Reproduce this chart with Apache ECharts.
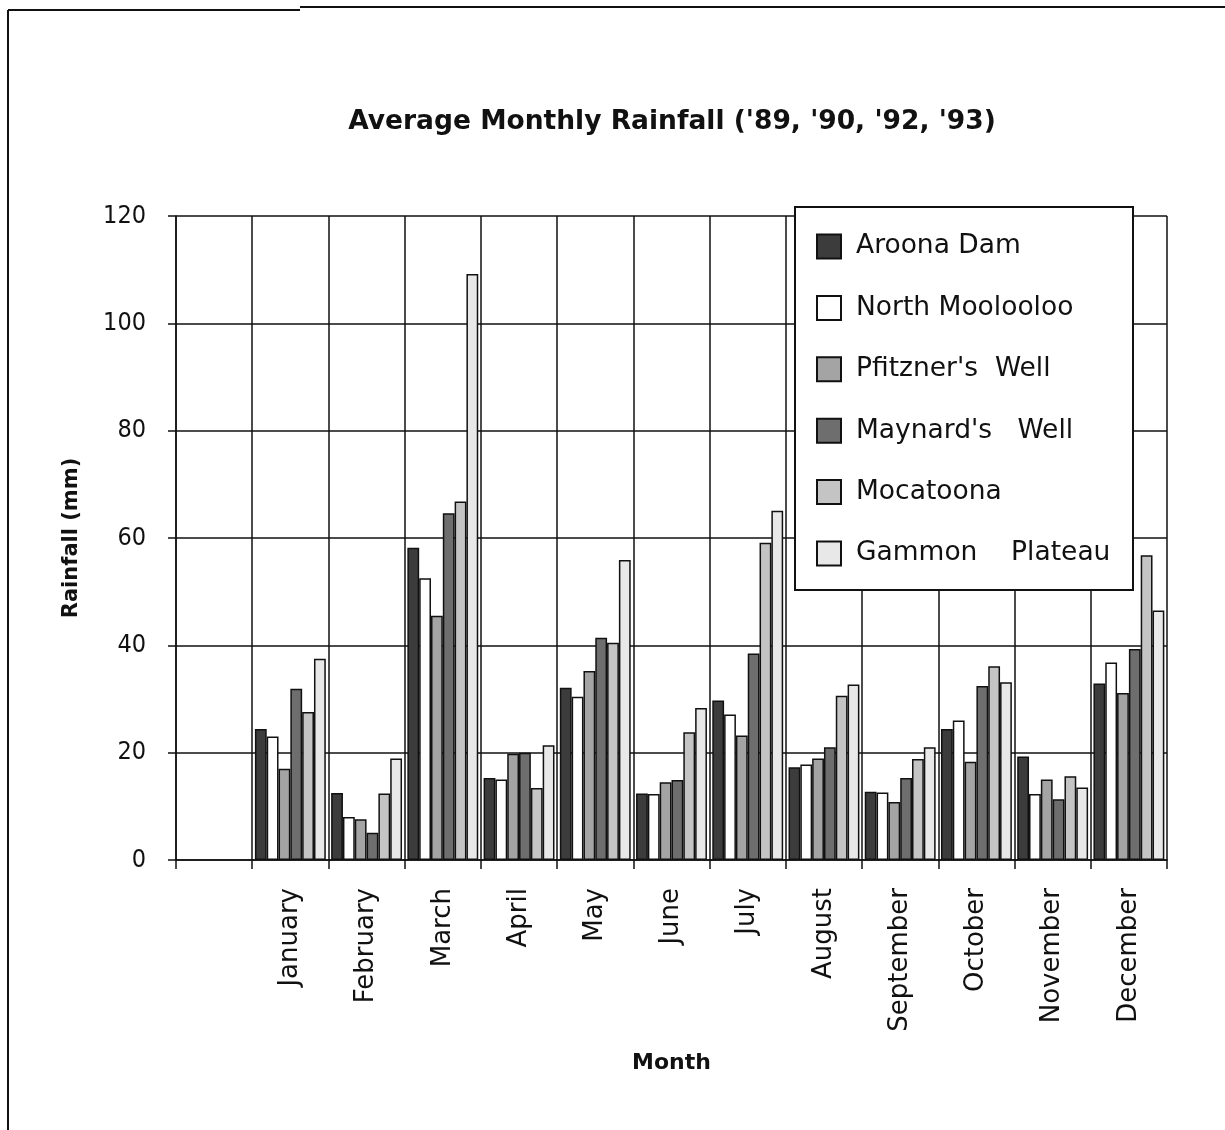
<!DOCTYPE html>
<html>
<head>
<meta charset="utf-8">
<script src="https://cdn.jsdelivr.net/npm/echarts@6/dist/echarts.min.js"></script>
<style>html,body{margin:0;padding:0;background:#fff}#c{width:1225px;height:1130px}</style>
</head>
<body>
<div id="c"></div>
<script>
const categories = ['', 'January', 'February', 'March', 'April', 'May', 'June', 'July', 'August', 'September', 'October', 'November', 'December'];
const seriesNames = ['Aroona Dam', 'North Moolooloo', "Pfitzner's  Well", "Maynard's   Well", 'Mocatoona', 'Gammon    Plateau'];
const aroonaDam      = ['-', 24.4, 12.5, 58.2, 15.3, 32.1, 12.4, 29.7, 17.3, 12.7, 24.4, 19.3, 32.9];
const northMoolooloo = ['-', 23.0, 8.0, 52.5, 15.0, 30.4, 12.3, 27.1, 17.8, 12.6, 26.0, 12.3, 36.8];
const pfitznersWell  = ['-', 17.0, 7.6, 45.5, 19.8, 35.2, 14.5, 23.2, 18.9, 10.8, 18.3, 15.0, 31.1];
const maynardsWell   = ['-', 31.9, 5.1, 64.6, 20.0, 41.4, 14.9, 38.5, 21.0, 15.3, 32.4, 11.3, 39.3];
const mocatoona      = ['-', 27.6, 12.4, 66.8, 13.4, 40.5, 23.8, 59.1, 30.6, 18.8, 36.1, 15.6, 56.8];
const gammonPlateau  = ['-', 37.5, 18.9, 109.2, 21.4, 55.9, 28.3, 65.1, 32.7, 21.0, 33.1, 13.5, 46.5];
const yTicks = [0, 20, 40, 60, 80, 100, 120];

const allData = [aroonaDam, northMoolooloo, pfitznersWell, maynardsWell, mocatoona, gammonPlateau];
const fills = ['#3c3c3c', '#ffffff', '#a4a4a4', '#6e6e6e', '#c4c4c4', '#e8e8e8'];
const FONT = 'DejaVu Sans';
const FONT_C = '"DejaVu Sans Condensed", "DejaVu Sans"';

const chart = echarts.init(document.getElementById('c'), null, {renderer: 'canvas'});
chart.setOption({
  backgroundColor: '#fff',
  animation: false,
  title: {
    text: "Average Monthly Rainfall ('89, '90, '92, '93)",
    left: 667, top: 104, textAlign: 'center',
    textStyle: {fontFamily: FONT, fontSize: 26.5, fontWeight: 'bold', color: '#111'}
  },
  graphic: [
    {type: 'line', shape: {x1: 8, y1: 10, x2: 8, y2: 1130}, style: {stroke: '#111', lineWidth: 2}, z: 10},
    {type: 'line', shape: {x1: 8, y1: 10, x2: 300, y2: 10}, style: {stroke: '#111', lineWidth: 2}, z: 10},
    {type: 'line', shape: {x1: 300, y1: 7, x2: 1225, y2: 7}, style: {stroke: '#111', lineWidth: 2}, z: 10},
    {type: 'rect', shape: {x: 795, y: 207, width: 338, height: 383}, style: {fill: '#fff', stroke: '#111', lineWidth: 2}, z: 3}
  ],
  legend: {
    orient: 'vertical',
    left: 816, top: 233,
    padding: 0,
    itemGap: 34.4,
    itemWidth: 24, itemHeight: 24,
    icon: 'rect',
    z: 5,
    textStyle: {fontFamily: FONT, fontSize: 26.5, lineHeight: 24, color: '#111', padding: [0, 0, 0, 10]},
    data: seriesNames
  },
  grid: {left: 176, right: 58, top: 216, bottom: 270, containLabel: false},
  xAxis: {
    type: 'category',
    data: categories,
    boundaryGap: true,
    name: 'Month',
    nameLocation: 'middle',
    nameGap: 192,
    nameTextStyle: {fontFamily: FONT, fontSize: 22, fontWeight: 'bold', color: '#111'},
    axisLine: {show: true, lineStyle: {color: '#111', width: 1.5}},
    axisTick: {show: true, alignWithLabel: false, length: 9, lineStyle: {color: '#111', width: 1.5}},
    splitLine: {show: true, lineStyle: {color: '#111', width: 1.5}},
    axisLabel: {interval: 0, rotate: 90, margin: 28, fontFamily: FONT, fontSize: 26, color: '#111'}
  },
  yAxis: {
    type: 'value',
    min: yTicks[0], max: yTicks[yTicks.length - 1], interval: 20,
    name: 'Rainfall (mm)',
    nameLocation: 'middle',
    nameGap: 94,
    nameTextStyle: {fontFamily: FONT, fontSize: 21, fontWeight: 'bold', color: '#111'},
    axisLine: {show: true, lineStyle: {color: '#111', width: 1.5}},
    axisTick: {show: true, length: 8, lineStyle: {color: '#111', width: 1.5}},
    splitLine: {show: true, lineStyle: {color: '#111', width: 1.5}},
    axisLabel: {margin: 30, fontFamily: FONT_C, fontSize: 25, color: '#111'}
  },
  series: seriesNames.map((n, i) => ({
    name: n,
    type: 'bar',
    data: allData[i],
    barGap: '0%',
    barCategoryGap: '7%',
    itemStyle: {color: fills[i], borderColor: '#111', borderWidth: 1.5}
  }))
});
</script>
</body>
</html>
